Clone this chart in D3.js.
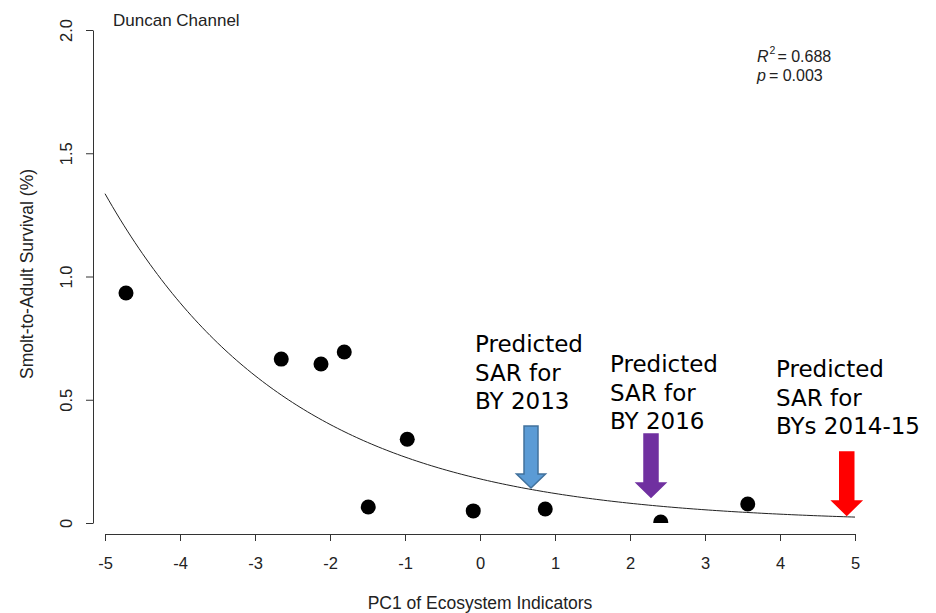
<!DOCTYPE html>
<html>
<head>
<meta charset="utf-8">
<script src="https://cdn.jsdelivr.net/npm/d3@7"></script>
<style>
  html, body { margin: 0; padding: 0; background: #fff; }
  svg { display: block; }
  .axis text { font-family: "Liberation Sans", Arial, sans-serif; font-size: 16.5px; fill: #222; }
  .axis path, .axis line { stroke: #333; stroke-width: 1; }
</style>
</head>
<body>
<svg id="chart" width="936" height="613"></svg>
<script>
// Observed PC1 scores and smolt-to-adult survival (%)
const pc1Scores = [-4.72, -2.65, -2.12, -1.81, -1.49, -0.97, -0.09, 0.87, 2.41, 3.57];
const survivalPct = [0.933, 0.665, 0.645, 0.694, 0.065, 0.34, 0.049, 0.057, 0.004, 0.077];

// Exponential fit: SAR = a * exp(b * PC1)
const fitA = 0.179;
const fitB = -0.402;
const fitStats = { r2: "0.688", p: "0.003" };

const xTicks = [-5, -4, -3, -2, -1, 0, 1, 2, 3, 4, 5];
const xTickLabels = ["-5", "-4", "-3", "-2", "-1", "0", "1", "2", "3", "4", "5"];
const yTicks = [0, 0.5, 1.0, 1.5, 2.0];
const yTickLabels = ["0", "0.5", "1.0", "1.5", "2.0"];

// Predicted brood-year positions on PC1 and where each arrow points
const predLabels = [
  ["Predicted", "SAR for", "BY 2013"],
  ["Predicted", "SAR for", "BY 2016"],
  ["Predicted", "SAR for", "BYs 2014-15"]
];
const predPC1 = [0.68, 2.28, 4.89];
const predTipSAR = [0.142, 0.105, 0.032];
const predColors = ["#5B9BD5", "#7030A0", "#FF0000"];
const predStroke = ["#41719C", "#7030A0", "#FF0000"];

const svg = d3.select("#chart");
const x = d3.scaleLinear().domain([-5, 5]).range([105, 855]);
const y = d3.scaleLinear().domain([0, 2]).range([523, 30]);
const sansFont = "Liberation Sans, Arial, sans-serif";

// X axis
svg.append("g").attr("class", "axis")
  .attr("transform", "translate(0,534)")
  .call(d3.axisBottom(x).tickValues(xTicks).tickSize(7).tickSizeOuter(0).tickPadding(16)
    .tickFormat((d, i) => xTickLabels[i]));

// Y axis with rotated labels
const yAxis = svg.append("g").attr("class", "axis")
  .attr("transform", "translate(93,0)")
  .call(d3.axisLeft(y).tickValues(yTicks).tickSize(7).tickSizeOuter(0)
    .tickFormat((d, i) => yTickLabels[i]));
yAxis.selectAll(".tick text")
  .attr("x", null).attr("dy", null)
  .attr("text-anchor", "middle")
  .attr("transform", "translate(-21,0) rotate(-90)");

// Axis titles
svg.append("text")
  .attr("x", 480).attr("y", 609)
  .attr("text-anchor", "middle")
  .style("font-family", sansFont)
  .style("font-size", "17.5px").style("fill", "#222")
  .text("PC1 of Ecosystem Indicators");
svg.append("text")
  .attr("transform", "translate(33,274) rotate(-90)")
  .attr("text-anchor", "middle")
  .style("font-family", sansFont)
  .style("font-size", "17.5px").style("fill", "#222")
  .text("Smolt-to-Adult Survival (%)");

// Panel title
svg.append("text")
  .attr("x", 113).attr("y", 26)
  .style("font-family", sansFont)
  .style("font-size", "17px").style("fill", "#222")
  .text("Duncan Channel");

// Fit statistics
const stats = svg.append("g")
  .style("font-family", sansFont)
  .style("font-size", "16px").style("fill", "#222");
const rSym = stats.append("text").attr("x", 757).attr("y", 62)
  .style("font-style", "italic").text("R");
const rW = rSym.node().getComputedTextLength();
const sup = stats.append("text").attr("x", 757 + rW + 1).attr("y", 54)
  .style("font-size", "10.5px").text("2");
const supW = sup.node().getComputedTextLength();
stats.append("text").attr("x", 757 + rW + supW + 3).attr("y", 62)
  .text("= " + fitStats.r2);
const pSym = stats.append("text").attr("x", 757).attr("y", 80.5)
  .style("font-style", "italic").text("p");
const pW = pSym.node().getComputedTextLength();
stats.append("text").attr("x", 757 + pW + 3).attr("y", 80.5)
  .text("= " + fitStats.p);

// Fitted curve
const curvePts = d3.range(0, 201).map(i => {
  const v = -5 + i * 0.05;
  return [v, fitA * Math.exp(fitB * v)];
});
svg.append("path")
  .datum(curvePts)
  .attr("fill", "none")
  .attr("stroke", "#222")
  .attr("stroke-width", 1)
  .attr("d", d3.line().x(d => x(d[0])).y(d => y(d[1])));

// Observed points, clipped to the plotting region
svg.append("clipPath").attr("id", "plotClip")
  .append("rect").attr("x", 93).attr("y", 0).attr("width", 843).attr("height", y(0));
svg.append("g").attr("clip-path", "url(#plotClip)")
  .selectAll("circle")
  .data(pc1Scores.map((v, i) => [v, survivalPct[i]]))
  .join("circle")
  .attr("cx", d => x(d[0]))
  .attr("cy", d => y(d[1]))
  .attr("r", 7.5)
  .attr("fill", "#000");

// Prediction arrows and labels
const textX = [475, 610, 776];
const textY = [352, 372, 377];
const shaftLen = [48, 49, 49];
predPC1.forEach((v, i) => {
  const tx = x(v), ty = y(predTipSAR[i]);
  const headH = 14, headW = 14.5, shaftW = 7;
  const top = ty - headH - shaftLen[i];
  const pts = [
    [tx - shaftW, top], [tx + shaftW, top], [tx + shaftW, ty - headH],
    [tx + headW, ty - headH], [tx, ty], [tx - headW, ty - headH], [tx - shaftW, ty - headH]
  ];
  svg.append("polygon")
    .attr("points", pts.map(p => p.join(",")).join(" "))
    .attr("fill", predColors[i])
    .attr("stroke", predStroke[i])
    .attr("stroke-width", 1.5);

  const t = svg.append("text")
    .attr("x", textX[i]).attr("y", textY[i])
    .style("font-family", "'Comic Sans MS', 'DejaVu Sans', sans-serif")
    .style("font-size", "23px").style("fill", "#000");
  predLabels[i].forEach((line, j) => {
    t.append("tspan").attr("x", textX[i]).attr("dy", j === 0 ? 0 : 28.5).text(line);
  });
});
</script>
</body>
</html>
